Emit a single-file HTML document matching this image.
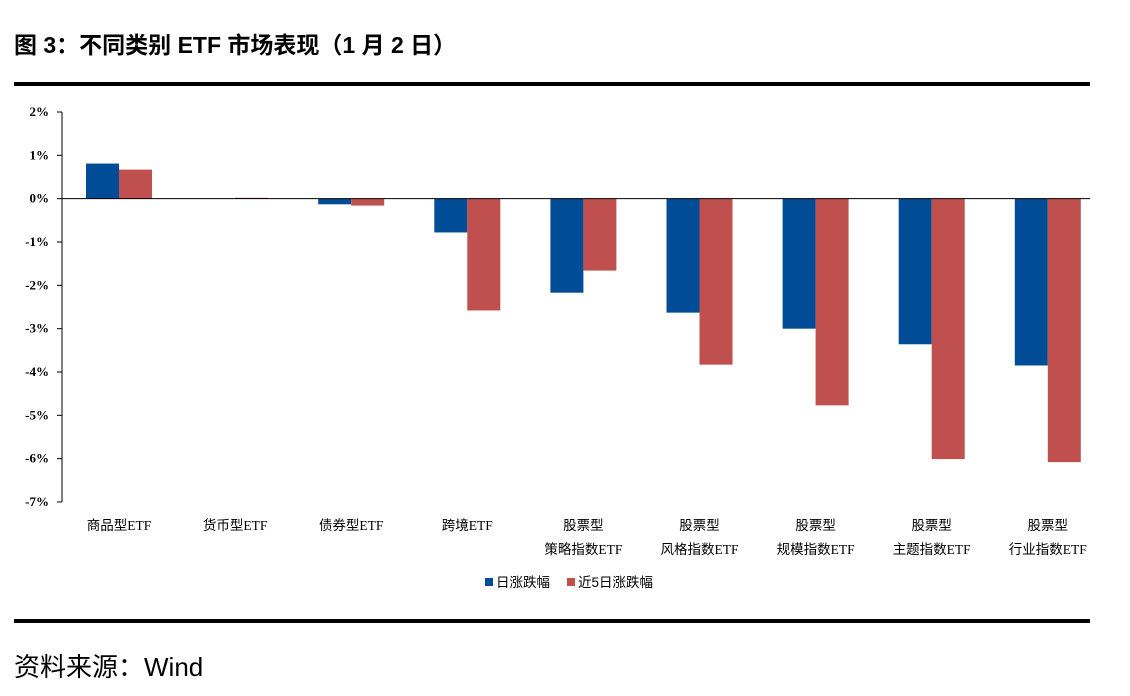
<!DOCTYPE html>
<html><head><meta charset="utf-8"><style>
body{margin:0;background:#fff;width:1130px;height:691px;overflow:hidden;font-family:"Liberation Sans","Noto Sans CJK SC",sans-serif;}
</style></head><body>
<svg width="1130" height="691" xmlns="http://www.w3.org/2000/svg">
<text x="14" y="53" font-size="23" font-weight="bold" font-family="Liberation Sans,Noto Sans CJK SC,sans-serif">图 3：不同类别 ETF 市场表现（1 月 2 日）</text>
<rect x="14" y="82" width="1076" height="4" fill="#000"/>
<rect x="14" y="619" width="1076" height="4" fill="#000"/>
<text x="14" y="676" font-size="26" font-family="Liberation Sans,Noto Sans CJK SC,sans-serif">资料来源：Wind</text>
<g id="plot"></g>
</svg>
<script>
const categories=[["商品型ETF"],["货币型ETF"],["债券型ETF"],["跨境ETF"],["股票型","策略指数ETF"],["股票型","风格指数ETF"],["股票型","规模指数ETF"],["股票型","主题指数ETF"],["股票型","行业指数ETF"]];
const dailyChange=[0.81,0,-0.13,-0.78,-2.17,-2.63,-3.0,-3.36,-3.85];
const fiveDayChange=[0.67,0.02,-0.16,-2.58,-1.66,-3.83,-4.77,-6.01,-6.08];
const yTicks=[2,1,0,-1,-2,-3,-4,-5,-6,-7];
const seriesNames=["日涨跌幅","近5日涨跌幅"];
const NS="http://www.w3.org/2000/svg";
const g=document.getElementById('plot');
const x0=62,x1=1090,yTop=112,yBot=502,vMax=2,vMin=-7;
const y=v=>yTop+(vMax-v)*(yBot-yTop)/(vMax-vMin);
const step=116.1;
const cx=i=>119+step*i;
function el(t,a){const e=document.createElementNS(NS,t);for(const k in a)e.setAttribute(k,a[k]);g.appendChild(e);return e;}
const ax=el('line',{x1:x0,y1:yTop,x2:x0,y2:yBot,stroke:'#000','stroke-width':1});


yTicks.forEach(v=>{
 const t=el('line',{x1:x0-5,x2:x0,y1:y(v),y2:y(v),stroke:'#000'});
 
 
 const l=el('text',{x:x0-13,y:y(v)+4,'text-anchor':'end','font-size':13,'font-weight':'bold','font-family':'Liberation Serif,serif'});
 l.textContent=v+'%';
 
 
});
const bw=33;
const colors=['#004c97','#c0504d'];
[dailyChange,fiveDayChange].forEach((s,si)=>{
 s.forEach((v,i)=>{
  const xx=cx(i)-bw+si*bw;
  const r=el('rect',{x:xx,y:Math.min(y(v),y(0)),width:bw,height:Math.abs(y(v)-y(0)),fill:colors[si]});
  
  
 });
});
const zl=el('line',{x1:x0,x2:x1,y1:y(0),y2:y(0),stroke:'#000'});


categories.forEach((c,i)=>{
 c.forEach((line,j)=>{
  const t=el('text',{x:cx(i),y:530+j*24,'text-anchor':'middle','font-size':13.5,'font-family':'Liberation Serif,Noto Sans CJK SC,serif'});
  t.textContent=line;
  
  
 });
});
const lx=[485,567];
seriesNames.forEach((n,i)=>{
 const r=el('rect',{x:lx[i],y:578,width:8,height:8,fill:colors[i]});
 
 
 const t=el('text',{x:lx[i]+11,y:587,'font-size':13.5,'font-family':'Liberation Sans,Noto Sans CJK SC,sans-serif'});
 t.textContent=n;
 
 
});
</script>
</body></html>
